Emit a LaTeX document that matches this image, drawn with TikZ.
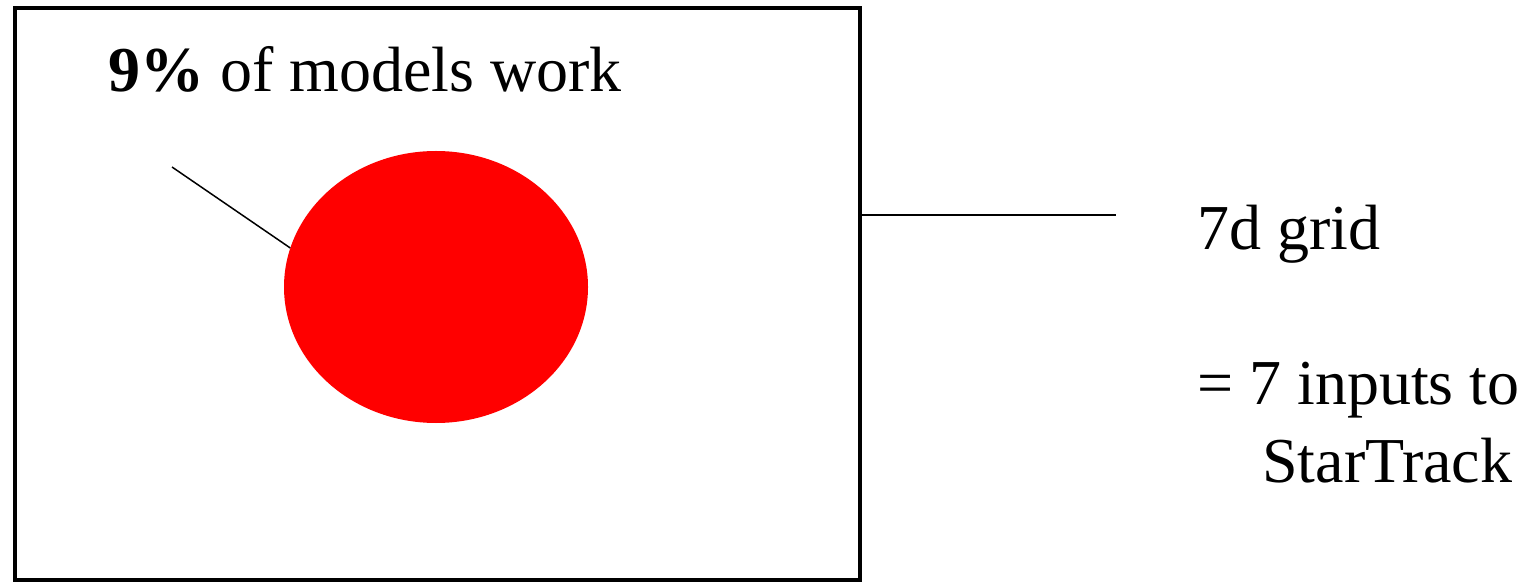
\documentclass[tikz,border=0pt]{standalone}
\usepackage{fontspec}
\setmainfont{Liberation Serif}
\usetikzlibrary{shapes.geometric}
\begin{document}
\begin{tikzpicture}[x=1pt,y=1pt,
  lbl/.style={anchor=base west,inner sep=0pt,font=\fontsize{64}{76}\selectfont},
  thin line/.style={line width=1.5pt}]
\useasboundingbox (0,0) rectangle (1533,584);
\node[draw,line width=4pt,minimum width=845pt,minimum height=571pt,inner sep=0pt] (box) at (437,290) {};
\node[ellipse,fill=red,minimum width=304pt,minimum height=272pt,inner sep=0pt] (disc) at (436,297) {};
\node[lbl] (title) at (108,492) {\textbf{9\%} of models work};
\coordinate (tail) at (172,417);
\draw[thin line] (tail) -- (disc.165);
\coordinate (gridend) at (1116,369);
\draw[thin line] (box.east |- gridend) -- (gridend);
\node[lbl] (grid) at (1197,334) {7d grid};
\node[lbl] (inputs) at (1197,179) {= 7 inputs to};
\node[lbl] (star) at (1262,102) {StarTrack};
\end{tikzpicture}
\end{document}
